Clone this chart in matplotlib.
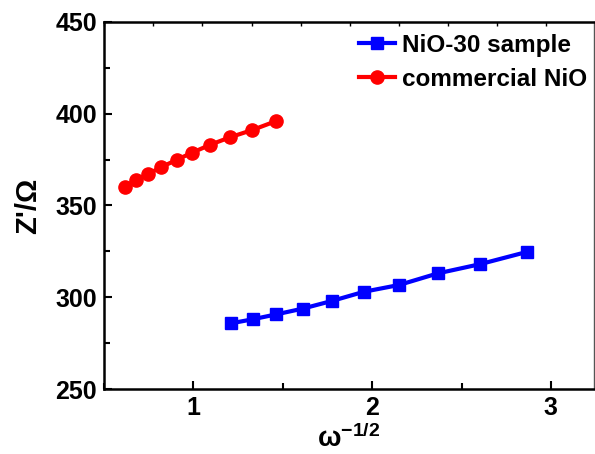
import numpy as np
import matplotlib
matplotlib.use("Agg")
from matplotlib import pyplot as plt
from matplotlib.ticker import MultipleLocator

plt.rcParams['font.family'] = ['Liberation Sans', 'DejaVu Sans']
plt.rcParams['font.weight'] = 'bold'
plt.rcParams['mathtext.fontset'] = 'custom'
plt.rcParams['mathtext.rm'] = 'Liberation Sans:bold'
plt.rcParams['mathtext.bf'] = 'Liberation Sans:bold'
plt.rcParams['mathtext.it'] = 'Liberation Sans:bold'

# commercial NiO
x_com = [0.615, 0.68, 0.747, 0.821, 0.905, 0.994, 1.095, 1.207, 1.33, 1.464]
z_com = [360.1, 363.9, 367.2, 370.9, 374.8, 378.8, 383.1, 387.2, 391.1, 396.0]

# NiO-30 sample
x_nio = [1.21, 1.331, 1.464, 1.611, 1.775, 1.954, 2.151, 2.367, 2.603, 2.866]
z_nio = [285.8, 288.0, 290.7, 293.8, 298.0, 303.0, 306.7, 313.0, 318.0, 324.7]

fig = plt.figure(figsize=(5.95, 4.54), dpi=100)
ax = fig.add_axes([0.175, 0.143, 0.823, 0.809])

ax.plot(x_nio, z_nio, '-s', color='#0000ff', lw=3, ms=8, label='NiO-30 sample')
ax.plot(x_com, z_com, '-o', color='#ff0000', lw=3, ms=9.5, label='commercial NiO')

ax.set_xlim(0.5, 3.24)
ax.set_ylim(250, 450)
ax.xaxis.set_major_locator(MultipleLocator(1))
ax.xaxis.set_minor_locator(MultipleLocator(0.5))
ax.yaxis.set_major_locator(MultipleLocator(50))
ax.yaxis.set_minor_locator(MultipleLocator(25))
ax.tick_params(which='both', direction='in', top=False, right=False, labelsize=18, width=1.5)
ax.tick_params(which='major', length=6, pad=5)
ax.tick_params(which='minor', length=4)
for lab in ax.get_xticklabels() + ax.get_yticklabels():
    lab.set_fontweight('bold')

for s in ['left', 'bottom', 'top']:
    ax.spines[s].set_linewidth(1.8)
ax.spines['right'].set_linewidth(1.0)
ax.spines['right'].set_color('#555555')

# top axis ticks
top = ax.secondary_xaxis('top')
top.set_xticks(np.arange(0.5, 3.24, 0.275))
top.tick_params(direction='in', length=3, width=1, labeltop=False)
top.spines['top'].set_visible(False)

ax.set_xlabel('\u03c9$^{-1/2}$', fontsize=20, fontweight='bold', labelpad=3)
ax.set_ylabel("Z'/\u03a9", fontsize=21, fontweight='bold', labelpad=10)

ax.legend(loc='upper right', frameon=False, prop={'size': 17.5, 'weight': 'bold'},
          handlelength=1.5, borderaxespad=0.0, borderpad=0.5, labelspacing=0.45,
          handletextpad=0.3, bbox_to_anchor=(1.012, 1.0))

fig.savefig('out.png', dpi=100)
